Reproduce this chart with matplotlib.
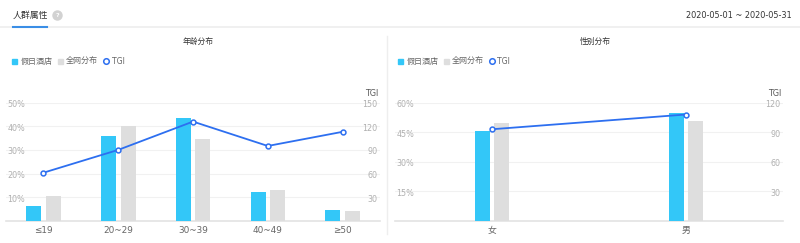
import numpy as np
import matplotlib.pyplot as plt
from matplotlib.patches import Rectangle
from matplotlib.lines import Line2D
from matplotlib.transforms import ScaledTranslation

plt.rcParams['font.family'] = ['Noto Sans CJK SC', 'DejaVu Sans']

##DATA##########################################################################
age_labels = ['≤19', '20~29', '30~39', '40~49', '≥50']
age_store = [6.3, 35.8, 43.7, 12.2, 4.5]      # 假日酒店 (%)
age_web = [10.3, 40.1, 34.8, 13.1, 3.9]       # 全网分布 (%)
age_tgi = [61, 90, 126, 95, 113]

sex_labels = ['女', '男']
sex_store = [45.6, 54.8]
sex_web = [49.5, 50.8]
sex_tgi = [93, 108]

age_pct_ticks = [10, 20, 30, 40, 50]
age_tgi_ticks = [30, 60, 90, 120, 150]
sex_pct_ticks = [15, 30, 45, 60]
sex_tgi_ticks = [30, 60, 90, 120]
################################################################################

BLUE = '#33c7f8'
GRAY = '#dedede'
LINE = '#2d6ff0'
TICK = '#b0b0b0'
W, H = 800, 243
LABEL_FONT = ['DejaVu Sans', 'Noto Sans CJK SC']


def fx(px):
    return px / W


def fy(py):
    return 1 - py / H


def draw_chart(fig, left, right, labels, store, web, tgi, pct_ticks, tgi_ticks):
    n = len(labels)
    x = np.arange(n)
    ax = fig.add_axes([fx(left), fy(220.7), fx(right - left), 118 / H])
    band = (right - left) / n
    bw = 15 / band
    off = 9.8 / band
    ax.bar(x - off, store, width=bw, color=BLUE, zorder=3)
    ax.bar(x + off, web, width=bw, color=GRAY, zorder=3)
    ax.set_xlim(-0.5, n - 0.5)
    ax.set_ylim(0, pct_ticks[-1])
    ax.set_yticks(pct_ticks)
    ax.set_yticklabels(['%d%%' % t for t in pct_ticks])
    ax.grid(axis='y', color='#f1f1f1', linewidth=0.8, zorder=0)
    for s in ['top', 'left', 'right']:
        ax.spines[s].set_visible(False)
    ax.spines['bottom'].set_color('#e3e3e3')
    ax.spines['bottom'].set_linewidth(1.2)
    ax.set_xticks(x)
    ax.set_xticklabels(labels, family=LABEL_FONT)
    ax.tick_params(axis='x', length=0, pad=3.5, labelsize=6.4, labelcolor='#666666')
    ax.tick_params(axis='y', length=0, pad=-1, labelsize=5.8, labelcolor=TICK)
    shift = ScaledTranslation(0, -2 / 100, fig.dpi_scale_trans)
    for lab in ax.get_yticklabels():
        lab.set_horizontalalignment('left')
        lab.set_verticalalignment('center')
        lab.set_family(LABEL_FONT)
        lab.set_transform(lab.get_transform() + shift)
    ax.set_facecolor('none')

    ax2 = ax.twinx()
    ax2.plot(x, tgi, color=LINE, linewidth=1.3, marker='o', markersize=3.5,
             markerfacecolor='white', markeredgecolor=LINE, markeredgewidth=1.1, zorder=5)
    ax2.set_ylim(0, tgi_ticks[-1])
    ax2.set_yticks(tgi_ticks)
    ax2.tick_params(axis='y', length=0, pad=-2, labelsize=5.8, labelcolor=TICK)
    for lab in ax2.get_yticklabels():
        lab.set_horizontalalignment('right')
        lab.set_verticalalignment('center')
        lab.set_family(LABEL_FONT)
        lab.set_transform(lab.get_transform() + shift)
    for s in ax2.spines.values():
        s.set_visible(False)
    fig.text(fx(right - 2), fy(93), 'TGI', ha='right', va='center', fontsize=5.8,
             color='#555555', family=LABEL_FONT)
    return ax


def draw_legend(fig, x0):
    y = fy(61)
    fig.patches.append(Rectangle((fx(x0), fy(64)), fx(5), 5 / H, color=BLUE,
                                 transform=fig.transFigure, figure=fig))
    fig.text(fx(x0 + 8.5), y, '假日酒店', ha='left', va='center', fontsize=5.8, color='#666666')
    fig.patches.append(Rectangle((fx(x0 + 46), fy(64)), fx(5), 5 / H, color=GRAY,
                                 transform=fig.transFigure, figure=fig))
    fig.text(fx(x0 + 54), y, '全网分布', ha='left', va='center', fontsize=5.8, color='#666666')
    fig.lines.append(Line2D([fx(x0 + 94)], [y], marker='o', markersize=4,
                            markerfacecolor='white', markeredgecolor=LINE,
                            markeredgewidth=1.1, transform=fig.transFigure))
    fig.text(fx(x0 + 99.5), y, 'TGI', ha='left', va='center', fontsize=5.6, color='#666666',
             family=LABEL_FONT)


fig = plt.figure(figsize=(8, 2.43), dpi=100)

# header
fig.text(fx(13), fy(15), '人群属性', ha='left', va='center', fontsize=6.4, color='#333333')
fig.lines.append(Line2D([fx(57)], [fy(15.5)], marker='o', markersize=6.5, color='#d2d2d2',
                        transform=fig.transFigure))
fig.text(fx(57), fy(15.7), '?', ha='center', va='center', fontsize=4.5, color='white',
         family='DejaVu Sans', fontweight='bold')
fig.text(fx(792), fy(15), '2020-05-01 ~ 2020-05-31', ha='right', va='center',
         fontsize=5.9, color='#333333', family=LABEL_FONT)
fig.lines.append(Line2D([0, 1], [fy(27), fy(27)], color='#eeeeee', linewidth=1.2,
                        transform=fig.transFigure))
fig.lines.append(Line2D([fx(13), fx(47)], [fy(27), fy(27)], color='#3a8ee6', linewidth=1.5,
                        transform=fig.transFigure))
fig.lines.append(Line2D([fx(386.5), fx(386.5)], [fy(36), fy(234)], color='#eeeeee',
                        linewidth=1, transform=fig.transFigure))

fig.text(fx(198), fy(42), '年龄分布', ha='center', va='center', fontsize=5.6, color='#333333')
fig.text(fx(595), fy(42), '性别分布', ha='center', va='center', fontsize=5.6, color='#333333')

draw_legend(fig, 12)
draw_legend(fig, 398)

draw_chart(fig, 6, 380, age_labels, age_store, age_web, age_tgi, age_pct_ticks, age_tgi_ticks)
draw_chart(fig, 395, 783, sex_labels, sex_store, sex_web, sex_tgi, sex_pct_ticks, sex_tgi_ticks)

fig.savefig('out.png', dpi=100, facecolor='white')
